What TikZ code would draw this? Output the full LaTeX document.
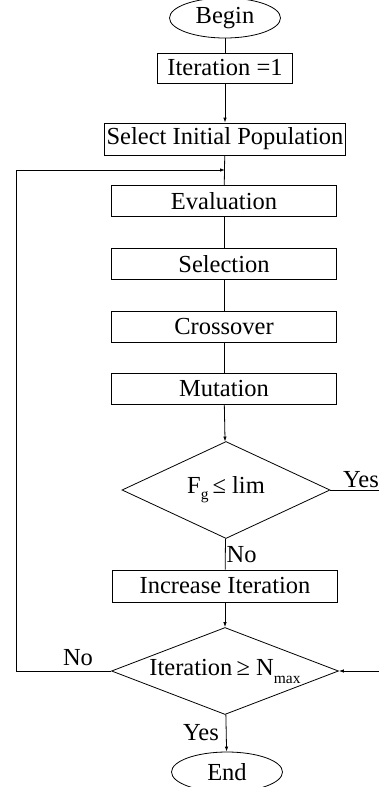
\documentclass[tikz,border=0pt]{standalone}
\usepackage{fontspec}
\setmainfont{Liberation Serif}
\usetikzlibrary{shapes.geometric,arrows.meta}
\begin{document}
\begin{tikzpicture}[x=1pt,y=-1pt,
  every node/.style={font=\fontsize{24.5}{29}\selectfont, inner sep=0pt},
  box/.style={draw, line width=0.8pt, rectangle, minimum width=225pt, minimum height=31pt},
  ell/.style={draw, ellipse, line width=0.8pt, minimum width=111pt, minimum height=40pt},
  dia/.style={draw, diamond, line width=0.8pt},
  ln/.style={line width=0.8pt},
  arr/.style={ln, -{Latex[length=5pt,width=3.5pt]}}]
\useasboundingbox (0,0) rectangle (379,787);
\node[ell] (begin) at (225,18) {Begin};
\node[box, minimum width=135pt, minimum height=30pt] (it1) at (225,68) {Iteration =1};
\node[box, minimum width=241pt, minimum height=32pt] (sel0) at (225,139) {Select Initial Population};
\node[box] (eval) at (224,201) {Evaluation};
\node[box] (selc) at (224,264) {Selection};
\node[box] (cross) at (224,327) {Crossover};
\node[box] (mut) at (224,389) {Mutation};
\node[dia, aspect=2.14, minimum width=208pt, minimum height=97pt] (fg) at (226,490) {F\raisebox{-6pt}{\fontsize{15.5}{15.5}\selectfont g}\,≤ lim};
\node[box, minimum height=32pt] (inc) at (225,586) {Increase Iteration};
\node[dia, aspect=2.6, minimum width=227pt, minimum height=87pt] (itn) at (225,671) {Iteration\,≥ N\raisebox{-8pt}{\fontsize{15.5}{15.5}\selectfont max}};
\node[ell] (end) at (227,772) {End};
\coordinate (lp) at (225,170);
\coordinate (yesend) at (379,490);
\coordinate (rin) at (379,671);
\coordinate (lb) at (16,671);
\coordinate (lt) at (16,170);
\draw[ln] (begin) -- (it1);
\draw[arr] (it1) -- (sel0);
\draw[ln] (sel0) -- (eval);
\draw[ln] (eval) -- (selc);
\draw[ln] (selc) -- (cross);
\draw[ln] (cross) -- (mut);
\draw[arr] (mut) -- (fg);
\draw[ln] (fg) -- node[right=1pt] (no1) {No} (inc);
\draw[ln] (fg.east) -- (yesend);
\node (yes1) at (361,480) {Yes};
\draw[arr] (inc) -- (itn);
\draw[arr] (rin) -- (itn.east);
\draw[arr] (itn) -- node[left=7pt] (yes2) {Yes} (end);
\draw[arr] (itn.west) -- (lb) -- (lt) -- (lp);
\node (no2) at (78,658) {No};
\end{tikzpicture}
\end{document}
